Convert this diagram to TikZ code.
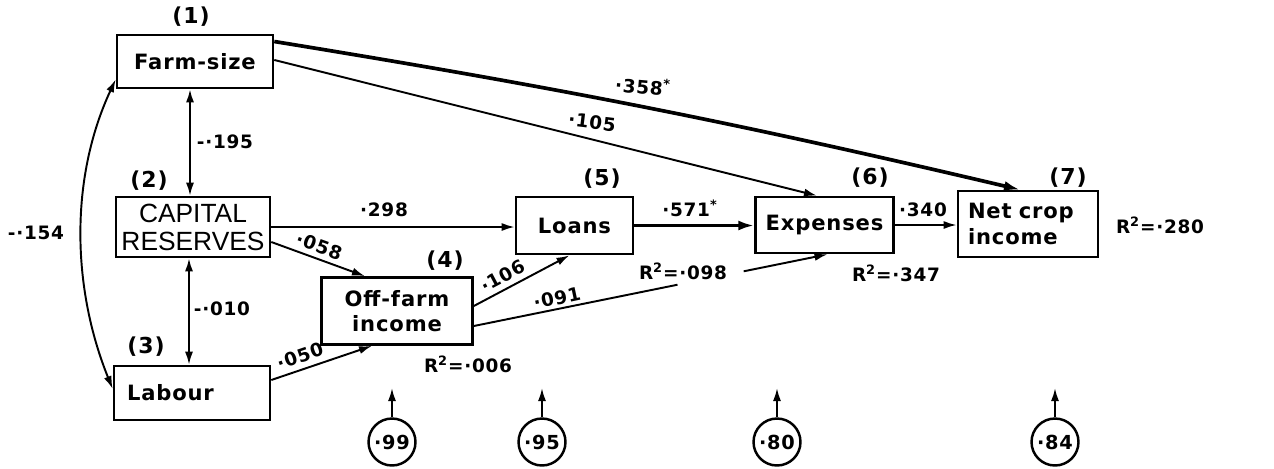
\documentclass[tikz,border=0pt]{standalone}
\usepackage{fontspec}
\setmainfont{DejaVu Sans}[LetterSpace=4]
\newfontfamily\capfont{Liberation Sans}
\usetikzlibrary{positioning,calc,arrows.meta}

\begin{document}
\begin{tikzpicture}[x=0.02cm, y=-0.02cm,
  box/.style={draw, line width=1.5pt, align=center, inner sep=0.2cm, font=\bfseries\fontsize{12}{14.5}\selectfont},
  link/.style={line width=1.1pt, -{Latex[length=2.6mm,width=1.6mm]}},
  strong/.style={line width=2.1pt, -{Latex[length=3.2mm,width=2mm]}},
  twoway/.style={line width=1.1pt, {Latex[length=2.6mm,width=1.6mm]}-{Latex[length=2.6mm,width=1.6mm]}},
  coef/.style={font=\bfseries\fontsize{10.5}{12}\selectfont, inner sep=1pt},
  tag/.style={font=\bfseries\fontsize{12.5}{14}\selectfont},
  resid/.style={circle, draw, line width=1.4pt, minimum size=0.94cm, inner sep=0pt, font=\bfseries\fontsize{11}{13}\selectfont}]
\useasboundingbox (0,0) rectangle (1274,468);
\node[box, minimum width=3.12cm, minimum height=1.06cm] (fs) at (195,61.5) {Farm-size};
\node[box, minimum width=3.08cm, minimum height=1.2cm, inner sep=0.05cm, font=\capfont\fontsize{15}{16}\selectfont] (cap) at (193,227) {CAPITAL\\RESERVES};
\node[box, minimum width=3.12cm, minimum height=1.08cm, text width=2.6cm, align=left] (lab) at (192,393) {Labour};
\node[box, minimum width=3.02cm, minimum height=1.34cm] (off) at (397,311) {Off-farm\\income};
\node[box, minimum width=2.34cm, minimum height=1.14cm] (loan) at (574.5,225.5) {Loans};
\node[box, minimum width=2.74cm, minimum height=1.12cm] (exp) at (824.5,225) {Expenses};
\node[box, minimum width=2.76cm, minimum height=1.32cm, text width=2.4cm, align=left] (net) at (1028,224) {Net crop\\income};
\foreach \nm/\px/\py in {1/191/17, 2/149/181, 3/146/347, 4/445/261, 5/602/179, 6/870/178, 7/1068/178}
  \node[tag] (n\nm) at (\px,\py) {(\nm)};
% correlations
\draw[twoway] ($(fs.south)+(-5,0)$) -- ($(cap.north)+(-3,0)$);
\draw[twoway] ($(cap.south)+(-4,0)$) -- ($(lab.north)+(-3,0)$);
\draw[twoway] ($(fs.south west)+(0,-10)$) to[out=245,in=112,looseness=0.9] ($(lab.west)+(0,-4)$);
% paths
\draw[link] (cap.east) -- (cap.east -| loan.west);
\draw[link] ($(cap.east)+(0,15)$) -- ($(off.north)+(-32,0)$);
\draw[link] ($(lab.east)+(0,-13)$) -- ($(off.south)+(-25,0)$);
\draw[link] ($(off.east)+(0,-5)$) -- ($(loan.south)+(-5,0)$);
\coordinate (o6) at ($(off.east)+(0,15)$);
\coordinate (e4) at ($(exp.south)+(3,0)$);
\path (o6) -- coordinate[pos=0.576] (g1) coordinate[pos=0.763] (g2) (e4);
\draw[line width=1.1pt] (o6) -- (g1);
\draw[link] (g2) -- (e4);
\draw[strong] (loan.east) -- (loan.east -| exp.west);
\draw[link] (exp.east) -- (exp.east -| net.west);
\draw[strong] ($(fs.east)+(0,-20)$) to[bend left=2] ($(net.north)+(-8,0)$);
\draw[link] ($(fs.east)+(0,-1.5)$) -- ($(exp.north)+(-7.5,0)$);
\node[coef] (c195) at (225,142) {-·195};
\node[coef] (c010) at (222,309) {-·010};
\node[coef] (c154) at (36,233) {-·154};
\node[coef] (c298) at (384,210) {·298};
\node[coef, rotate=-20] (c058) at (319,246) {·058};
\node[coef, rotate=19] (c050) at (300,356) {·050};
\node[coef, rotate=28] (c106) at (503,276) {·106};
\node[coef, rotate=12] (c091) at (557,298) {·091};
\node[coef] (c571) at (690,208) {·571\textsuperscript{*}};
\node[coef] (c340) at (923,210) {·340};
\node[coef, rotate=-7] (c105) at (592,122) {·105};
\node[coef, rotate=-5] (c358) at (643,86) {·358\textsuperscript{*}};
\node[coef] (r006) at (468,364) {R\textsuperscript{2}=·006};
\node[coef] (r098) at (683,271) {R\textsuperscript{2}=·098};
\node[coef] (r347) at (896,273) {R\textsuperscript{2}=·347};
\node[coef] (r280) at (1160,225) {R\textsuperscript{2}=·280};
% residuals
\foreach \cx/\val/\nm in {392/99/a, 542/95/b, 777/80/c, 1055/84/d}{
  \node[resid] (e\nm) at (\cx,442) {·\val};
  \coordinate (t\nm) at (\cx,388);
  \draw[link] (e\nm.north) -- (t\nm);
}
\end{tikzpicture}
\end{document}
